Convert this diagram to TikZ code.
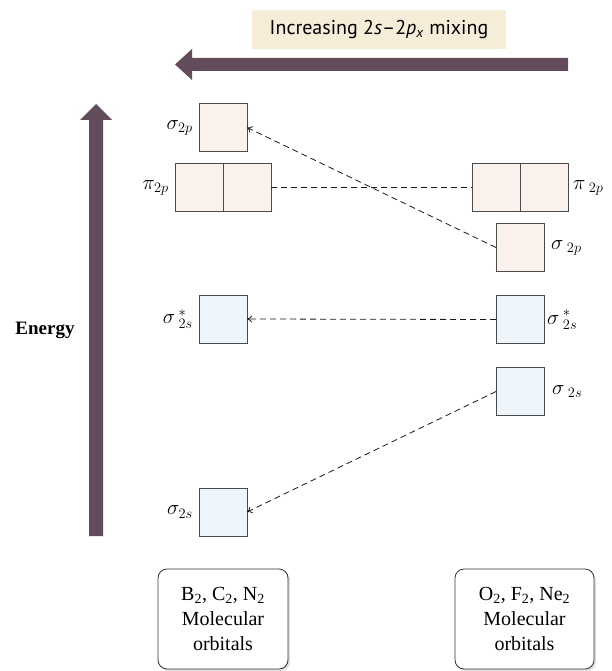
\documentclass[tikz,border=0pt]{standalone}
\usepackage{fontspec}
\setmainfont{Liberation Serif}
\newfontfamily\labelsans{PT Sans}
\usetikzlibrary{arrows.meta,shadows}
\definecolor{arrowpurple}{HTML}{624B5A}
\definecolor{labelbeige}{HTML}{F6EDD9}
\definecolor{pinkfill}{HTML}{FBF1EC}
\definecolor{bluefill}{HTML}{EEF6FC}
\definecolor{boxline}{HTML}{4A4A4A}
\tikzset{
  orb/.style={draw=boxline, line width=0.9pt, minimum width=48pt, minimum height=48pt, inner sep=0pt, outer sep=0pt},
  porb/.style={orb, fill=pinkfill},
  borb/.style={orb, fill=bluefill},
  lab/.style={inner sep=0pt, font=\fontsize{22}{26}\selectfont},
  link/.style={draw=black!90, dash pattern=on 6pt off 4pt, line width=0.8pt},
  linkarr/.style={link, -{To[length=5pt,width=7pt]}},
  molbox/.style={draw=black!80, line width=0.8pt, rounded corners=9pt, fill=white, minimum width=130pt, minimum height=100pt, align=center, font=\fontsize{20}{25}\selectfont, drop shadow={opacity=0.25, shadow xshift=2pt, shadow yshift=-2pt}}
}
\begin{document}
\begin{tikzpicture}[x=1pt,y=-1pt]
\useasboundingbox (0,0) rectangle (611,671);
% top label
\node[fill=labelbeige, minimum width=254pt, minimum height=39pt, inner sep=0pt, font=\labelsans\fontsize{20}{24}\selectfont] (mix) at (379,29.5) {Increasing 2\textit{s}–2\textit{p}\textsubscript{\textit{x}} mixing};
% horizontal arrow
\fill[arrowpurple] (568,58) -- (192,58) -- (192,49) -- (175,64.5) -- (192,80) -- (192,71) -- (568,71) -- cycle;
% vertical arrow
\fill[arrowpurple] (89,536) -- (89,120) -- (80,120) -- (96,104) -- (112,120) -- (103,120) -- (103,536) -- cycle;
\node[font=\bfseries\fontsize{19}{22}\selectfont, inner sep=0pt] (energy) at (45,330) {Energy};
% left orbitals
\node[porb] (ls2p) at (223,127.5) {};
\node[porb] (lpia) at (199,187.5) {};
\node[porb] (lpib) at (247,187.5) {};
\node[borb] (ls2ss) at (223,319) {};
\node[borb] (ls2s) at (223,512) {};
% right orbitals
\node[porb] (rpia) at (496,187.5) {};
\node[porb] (rpib) at (544,187.5) {};
\node[porb] (rs2p) at (520,247.5) {};
\node[borb] (rs2ss) at (520,319.5) {};
\node[borb] (rs2s) at (520,391.5) {};
% labels
\node[lab, anchor=east] (t1) at ([xshift=-6pt]ls2p.west) {$\sigma_{2p}$};
\node[lab, anchor=east] (t2) at ([xshift=-6pt]lpia.west) {$\pi_{2p}$};
\node[lab, anchor=east] (t3) at ([xshift=-6pt]ls2ss.west) {$\sigma\,{}^{*}_{2s}$};
\node[lab, anchor=east] (t4) at ([xshift=-6pt]ls2s.west) {$\sigma_{2s}$};
\node[lab, anchor=west] (t5) at ([xshift=5pt]rpib.east) {$\pi\,{}_{2p}$};
\node[lab, anchor=west] (t6) at ([xshift=7pt]rs2p.east) {$\sigma\,{}_{2p}$};
\node[lab, anchor=west] (t7) at ([xshift=3pt]rs2ss.east) {$\sigma\,{}^{*}_{2s}$};
\node[lab, anchor=west] (t8) at ([xshift=8pt]rs2s.east) {$\sigma\,{}_{2s}$};
% connectors
\draw[linkarr] (rs2p.west) -- (ls2p.east);
\draw[link] (lpib.east) -- (rpia.west);
\draw[linkarr] (rs2ss.west) -- (ls2ss.east);
\draw[linkarr] (rs2s.west) -- (ls2s.east);
% bottom boxes
\node[molbox] (lmol) at (223,619) {B\textsubscript{2}, C\textsubscript{2}, N\textsubscript{2}\\Molecular\\orbitals};
\node[molbox, minimum width=139pt] (rmol) at (524.5,619) {O\textsubscript{2}, F\textsubscript{2}, Ne\textsubscript{2}\\Molecular\\orbitals};
\end{tikzpicture}
\end{document}
